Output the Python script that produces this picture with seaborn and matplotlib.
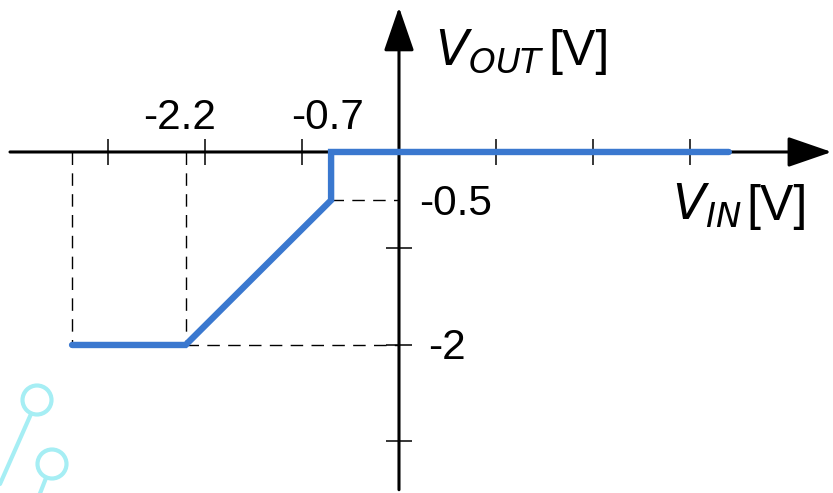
import matplotlib
matplotlib.use("Agg")
import matplotlib.pyplot as plt
import matplotlib.patches as mpatches
from matplotlib.transforms import Affine2D, IdentityTransform
import seaborn as sns
import pandas as pd

# Transfer characteristic of the clipping stage
v_in = [-3.37, -2.2, -0.7, -0.7, 3.4]
v_out = [-2.0, -2.0, -0.5, 0.0, 0.0]

# Axis ticks
x_ticks = [-3, -2, -1, 1, 2, 3]
y_ticks = [-1, -2, -3]

# Annotated break points
x_marks = [-2.2, -0.7]
x_mark_labels = ["-2.2", "-0.7"]
y_marks = [-0.5, -2.0]
y_mark_labels = ["-0.5", "-2"]

W, H, DPI = 833, 493, 100
BLUE = "#3a78cf"
LABEL_SIZE = 30.5

sns.set_theme(style="white")
plt.rcParams["font.family"] = ["Liberation Sans", "DejaVu Sans"]
plt.rcParams["mathtext.fontset"] = "dejavusans"

fig = plt.figure(figsize=(W / DPI, H / DPI), dpi=DPI)
ax = fig.add_axes([0, 0, 1, 1])
ax.set_xlim(-4.113, 4.474)
ax.set_ylim(-3.534, 1.575)
ax.axis("off")

# pixel frame with origin at the top-left corner
pix = Affine2D().scale(1, -1).translate(0, H) + IdentityTransform()

# coordinate axes with arrow heads
arrow_style = mpatches.ArrowStyle("-|>", head_length=2.9, head_width=1.0)
for start, end in [((-4.01, 0), (4.46, 0)), ((0, -3.5), (0, 1.50))]:
    ax.annotate("", xy=end, xytext=start,
                arrowprops=dict(arrowstyle=arrow_style, mutation_scale=9.4,
                                lw=2.2, color="black", shrinkA=0, shrinkB=0))

# tick marks
ax.plot(x_ticks, [0] * len(x_ticks), ls="", marker="|", ms=19, mew=1.1, color="black")
ax.plot([0] * len(y_ticks), y_ticks, ls="", marker="_", ms=19, mew=1.1, color="black")

# dashed guide lines
dash = dict(color="black", lw=1.0, ls=(0, (9, 6)))
ax.plot([v_in[0], v_in[0]], [0, v_out[0]], **dash)
ax.plot([x_marks[0], x_marks[0]], [0, y_marks[1]], **dash)
ax.plot([x_marks[0], 0], [y_marks[1], y_marks[1]], **dash)
ax.plot([x_marks[1], 0], [y_marks[0], y_marks[0]], **dash)

# the transfer curve, drawn point by point without aggregation
df = pd.DataFrame({"v_in": v_in, "v_out": v_out})
sns.lineplot(data=df, x="v_in", y="v_out", sort=False, estimator=None, ax=ax,
             color=BLUE, lw=4.6, solid_capstyle="round",
             solid_joinstyle="miter", zorder=5)

# break-point labels
for x, lab, dx in zip(x_marks, x_mark_labels, [-0.06, -0.04]):
    ax.text(x + dx, 0.238, lab, ha="center", va="baseline",
            fontsize=LABEL_SIZE, color="black")
for y, lab, x0 in zip(y_marks, y_mark_labels, [0.21, 0.30]):
    ax.text(x0, y - 0.15, lab, ha="left", va="baseline",
            fontsize=LABEL_SIZE, color="black")

# axis titles
ax.text(435, 65, r"$V_{OUT}$", transform=pix, ha="left", va="baseline",
        fontsize=35, color="black")
ax.text(610, 65, "[V]", transform=pix, ha="right", va="baseline",
        fontsize=36, color="black")
ax.text(672, 220, r"$V_{IN}$", transform=pix, ha="left", va="baseline",
        fontsize=35, color="black")
ax.text(808, 220, "[V]", transform=pix, ha="right", va="baseline",
        fontsize=36, color="black")

# decorative connector glyph in the lower-left corner
cyan = "#a6eef4"
for (cx, cy), (x0, y0), (x1, y1) in [((37, 400), (31, 414), (0, 484)),
                                     ((52, 464), (46, 478), (39, 496))]:
    fig.add_artist(mpatches.Circle((cx, cy), 14.5, transform=pix, fill=False,
                                   ec=cyan, lw=3.0))
    fig.add_artist(plt.Line2D([x0, x1], [y0, y1], transform=pix, color=cyan, lw=3.0))

fig.savefig("out.png", dpi=DPI, facecolor="white")
